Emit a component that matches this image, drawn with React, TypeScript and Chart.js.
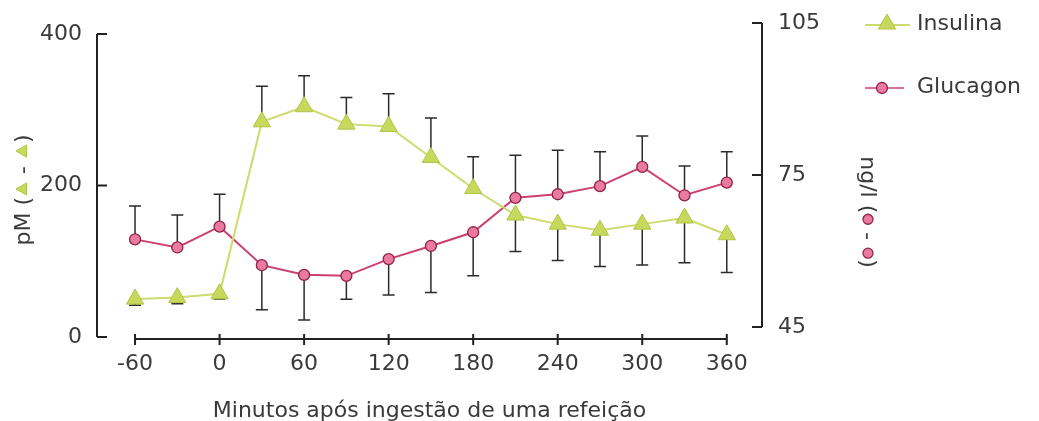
import React, { useEffect, useRef } from "react";
import { Chart, registerables } from "chart.js";

Chart.register(...registerables);

// ---- data ----
const minutes = [-60, -30, 0, 30, 60, 90, 120, 150, 180, 210, 240, 270, 300, 330, 360];
const insulina = [50, 52, 57, 284, 304, 281, 278, 237, 196, 161, 149, 141, 149, 157, 135];
const insulinaErro = [42, 44, 50, 331, 345, 316, 321, 289, 238, 113, 101, 93, 95, 98, 85];
const glucagon = [62.3, 60.7, 64.8, 57.2, 55.3, 55.1, 58.4, 61, 63.7, 70.5, 71.2, 72.8, 76.6, 71, 73.5];
const glucagonErro = [68.9, 67.1, 71.2, 48.4, 46.4, 50.5, 51.3, 51.8, 55.1, 78.9, 79.9, 79.6, 82.7, 76.8, 79.6];
const xTicks = [-60, 0, 60, 120, 180, 240, 300, 360];
const pmTicks = [0, 200, 400];
const ngTicks = [45, 75, 105];
const xTitle = "Minutos após ingestão de uma refeição";
const legendLabels = ["Insulina", "Glucagon"];

const FONT = "'DejaVu Sans', sans-serif";
const TEXT = "#3a3a3a";
const AXIS = "#222222";
const GREEN = "#cddb6c";
const GREEN_FILL = "#c6d95c";
const GREEN_EDGE = "#b0c444";
const PINK = "#cc3f70";
const PINK_FILL = "#ea7aa1";
const PINK_EDGE = "#8e2446";

function drawTri(ctx: CanvasRenderingContext2D, x: number, y: number, r: number) {
  ctx.beginPath();
  ctx.moveTo(x, y - r);
  ctx.lineTo(x + r * 0.866, y + r * 0.5);
  ctx.lineTo(x - r * 0.866, y + r * 0.5);
  ctx.closePath();
  ctx.fillStyle = GREEN_FILL;
  ctx.fill();
  ctx.strokeStyle = GREEN_EDGE;
  ctx.lineWidth = 1;
  ctx.stroke();
}

function drawDot(ctx: CanvasRenderingContext2D, x: number, y: number, r: number) {
  ctx.beginPath();
  ctx.arc(x, y, r, 0, Math.PI * 2);
  ctx.fillStyle = PINK_FILL;
  ctx.fill();
  ctx.strokeStyle = PINK_EDGE;
  ctx.lineWidth = 1.3;
  ctx.stroke();
}

const customPlugin = {
  id: "customDecor",
  beforeDatasetsDraw(chart: any) {
    const ctx = chart.ctx as CanvasRenderingContext2D;
    ctx.save();
    ctx.strokeStyle = "#2b2b2b";
    ctx.lineWidth = 1.5;
    const sets = [
      { idx: 0, axis: "y", err: insulinaErro },
      { idx: 1, axis: "y1", err: glucagonErro },
    ];
    sets.forEach((s) => {
      const meta = chart.getDatasetMeta(s.idx);
      const scale = chart.scales[s.axis];
      meta.data.forEach((pt: any, i: number) => {
        const e = s.err[i];
        if (e == null) return;
        const yEnd = scale.getPixelForValue(e);
        ctx.beginPath();
        ctx.moveTo(pt.x, pt.y);
        ctx.lineTo(pt.x, yEnd);
        ctx.moveTo(pt.x - 6, yEnd);
        ctx.lineTo(pt.x + 6, yEnd);
        ctx.stroke();
      });
    });
    ctx.restore();
  },
  afterDraw(chart: any) {
    const ctx = chart.ctx as CanvasRenderingContext2D;
    const { left, right, bottom } = chart.chartArea;
    const xs = chart.scales.x;
    const ys = chart.scales.y;
    const y1 = chart.scales.y1;
    ctx.save();
    ctx.strokeStyle = AXIS;
    ctx.lineWidth = 2;
    // left axis
    ctx.beginPath();
    ctx.moveTo(left, ys.getPixelForValue(pmTicks[pmTicks.length - 1]));
    ctx.lineTo(left, ys.getPixelForValue(pmTicks[0]));
    pmTicks.forEach((t) => {
      const p = ys.getPixelForValue(t);
      ctx.moveTo(left, p);
      ctx.lineTo(left + 10, p);
    });
    ctx.stroke();
    // right axis
    ctx.beginPath();
    ctx.moveTo(right, y1.getPixelForValue(ngTicks[ngTicks.length - 1]));
    ctx.lineTo(right, y1.getPixelForValue(ngTicks[0]));
    ngTicks.forEach((t) => {
      const p = y1.getPixelForValue(t);
      ctx.moveTo(right, p);
      ctx.lineTo(right - 10, p);
    });
    ctx.stroke();
    // x axis
    const xa = bottom + 2;
    ctx.beginPath();
    ctx.moveTo(xs.getPixelForValue(xTicks[0]), xa);
    ctx.lineTo(xs.getPixelForValue(xTicks[xTicks.length - 1]), xa);
    xTicks.forEach((t) => {
      const p = xs.getPixelForValue(t);
      ctx.moveTo(p, xa - 5);
      ctx.lineTo(p, xa + 6);
    });
    ctx.stroke();

    ctx.font = `22px ${FONT}`;
    ctx.fillStyle = TEXT;
    ctx.textBaseline = "middle";
    ctx.textAlign = "left";

    // left rotated title: pM (▲ - ▲)
    {
      const parts = ["pM (", "T", " - ", "T", ")"];
      const w = parts.map((p) => (p === "T" ? 16 : ctx.measureText(p).width));
      const total = w.reduce((a, b) => a + b, 0);
      ctx.save();
      ctx.translate(23, 190);
      ctx.rotate(-Math.PI / 2);
      let cx = -total / 2;
      parts.forEach((p, i) => {
        if (p === "T") drawTri(ctx, cx + w[i] / 2, 0, 7);
        else {
          ctx.fillStyle = TEXT;
          ctx.fillText(p, cx, 1);
        }
        cx += w[i];
      });
      ctx.restore();
    }
    // right rotated title: ng/l (● - ●)
    {
      const parts = ["ng/l (", "C", " - ", "C", ")"];
      const w = parts.map((p) => (p === "C" ? 12 : ctx.measureText(p).width));
      const total = w.reduce((a, b) => a + b, 0);
      ctx.save();
      ctx.translate(868, 212);
      ctx.rotate(Math.PI / 2);
      let cx = -total / 2;
      parts.forEach((p, i) => {
        if (p === "C") drawDot(ctx, cx + w[i] / 2, 0, 5);
        else {
          ctx.fillStyle = TEXT;
          ctx.fillText(p, cx, 1);
        }
        cx += w[i];
      });
      ctx.restore();
    }
    // legend
    ctx.lineWidth = 2;
    ctx.strokeStyle = GREEN;
    ctx.beginPath();
    ctx.moveTo(865, 25);
    ctx.lineTo(910, 25);
    ctx.stroke();
    drawTri(ctx, 887, 24, 10);
    ctx.strokeStyle = PINK;
    ctx.lineWidth = 1.5;
    ctx.beginPath();
    ctx.moveTo(865, 88);
    ctx.lineTo(904, 88);
    ctx.stroke();
    drawDot(ctx, 882, 88, 5.5);
    ctx.fillStyle = TEXT;
    ctx.fillText(legendLabels[0], 917, 24);
    ctx.fillText(legendLabels[1], 917, 87);
    ctx.restore();
  },
};

export default function App() {
  const ref = useRef<HTMLCanvasElement | null>(null);
  useEffect(() => {
    if (!ref.current) return;
    const chart = new Chart(ref.current, {
      type: "line",
      data: {
        datasets: [
          {
            label: legendLabels[0],
            data: minutes.map((m, i) => ({ x: m, y: insulina[i] })),
            yAxisID: "y",
            borderColor: GREEN,
            borderWidth: 2,
            pointStyle: "triangle",
            pointRadius: 10,
            pointBackgroundColor: GREEN_FILL,
            pointBorderColor: GREEN_EDGE,
            pointBorderWidth: 1,
            tension: 0,
          },
          {
            label: legendLabels[1],
            data: minutes.map((m, i) => ({ x: m, y: glucagon[i] })),
            yAxisID: "y1",
            borderColor: PINK,
            borderWidth: 2,
            pointStyle: "circle",
            pointRadius: 5.5,
            pointBackgroundColor: PINK_FILL,
            pointBorderColor: PINK_EDGE,
            pointBorderWidth: 1.3,
            tension: 0,
          },
        ],
      },
      options: {
        animation: false,
        responsive: false,
        layout: { padding: { top: 23, left: 0, right: 0, bottom: 0 } },
        plugins: { legend: { display: false }, tooltip: { enabled: false } },
        scales: {
          x: {
            type: "linear",
            min: -87,
            max: 385,
            grid: { display: false, drawTicks: false },
            border: { display: false },
            afterBuildTicks: (s: any) => {
              s.ticks = xTicks.map((v) => ({ value: v }));
            },
            afterFit: (s: any) => {
              s.height = 84;
              s.paddingLeft = 0;
              s.paddingRight = 0;
            },
            ticks: {
              padding: 14,
              autoSkip: false,
              maxRotation: 0,
              color: TEXT,
              font: { family: FONT, size: 22 },
              callback: (v: any) => String(v),
            },
            title: {
              display: true,
              text: xTitle,
              color: TEXT,
              font: { family: FONT, size: 22 },
              padding: { top: 0, bottom: -3 },
            },
          },
          y: {
            type: "linear",
            position: "left",
            min: 0,
            max: 414.5,
            grid: { display: false, drawTicks: false },
            border: { display: false },
            afterBuildTicks: (s: any) => {
              s.ticks = pmTicks.map((v) => ({ value: v }));
            },
            afterFit: (s: any) => {
              s.width = 97;
              s.paddingTop = 0;
              s.paddingBottom = 0;
            },
            ticks: {
              padding: 15,
              color: TEXT,
              font: { family: FONT, size: 22 },
              callback: (v: any) => String(v),
            },
          },
          y1: {
            type: "linear",
            position: "right",
            min: 43.03,
            max: 105,
            grid: { display: false, drawTicks: false },
            border: { display: false },
            afterBuildTicks: (s: any) => {
              s.ticks = ngTicks.map((v) => ({ value: v }));
            },
            afterFit: (s: any) => {
              s.width = 277;
              s.paddingTop = 0;
              s.paddingBottom = 0;
            },
            ticks: {
              padding: 16,
              color: TEXT,
              font: { family: FONT, size: 22 },
              callback: (v: any) => String(v),
            },
          },
        },
      },
      plugins: [customPlugin],
    } as any);
    return () => chart.destroy();
  }, []);
  return (
    <div style={{ position: "fixed", left: 0, top: 0, width: 1039, height: 421, background: "#fff" }}>
      <canvas ref={ref} width={1039} height={421} />
    </div>
  );
}
